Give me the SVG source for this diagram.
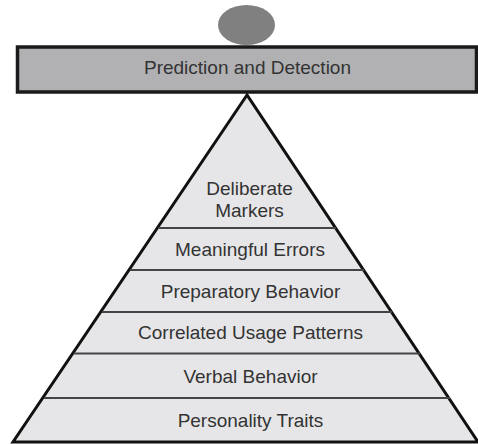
<svg xmlns="http://www.w3.org/2000/svg" width="478" height="444" viewBox="0 0 478 444">
<style>
.t{font-family:"Liberation Sans",Arial,sans-serif;font-size:19px;fill:#333;text-anchor:middle}
.sep{stroke:#444;stroke-width:2;fill:none}
</style>
<rect width="478" height="444" fill="#fff"/>
<g id="ellipse"><ellipse cx="246.5" cy="25" rx="28.5" ry="20" fill="#808080"/></g>
<g id="bar">
<rect x="17.5" y="47" width="459" height="45" fill="#b1b1b3" stroke="#1a1a1a" stroke-width="3.5"/>
<text class="t" x="247.5" y="74">Prediction and Detection</text>
</g>
<g id="pyramid">
<polygon points="247,95 13,442 478,442" fill="#e6e6e8" stroke="#111" stroke-width="3" stroke-linejoin="miter"/>
</g>
<g id="connectors">
<line class="sep" x1="158" y1="228" x2="336" y2="228"/>
<line class="sep" x1="130" y1="270" x2="364" y2="270"/>
<line class="sep" x1="102" y1="312" x2="392" y2="312"/>
<line class="sep" x1="74" y1="353.5" x2="420" y2="353.5"/>
<line class="sep" x1="44" y1="398" x2="450" y2="398"/>
</g>
<g id="layer-deliberate"><text class="t" x="249.5" y="195">Deliberate</text><text class="t" x="249.5" y="216.5">Markers</text></g>
<g id="layer-errors"><text class="t" x="250" y="256">Meaningful Errors</text></g>
<g id="layer-preparatory"><text class="t" x="250.5" y="298">Preparatory Behavior</text></g>
<g id="layer-correlated"><text class="t" x="250.5" y="339">Correlated Usage Patterns</text></g>
<g id="layer-verbal"><text class="t" x="250.5" y="382.5">Verbal Behavior</text></g>
<g id="layer-personality"><text class="t" x="250.5" y="426.5">Personality Traits</text></g>
</svg>
